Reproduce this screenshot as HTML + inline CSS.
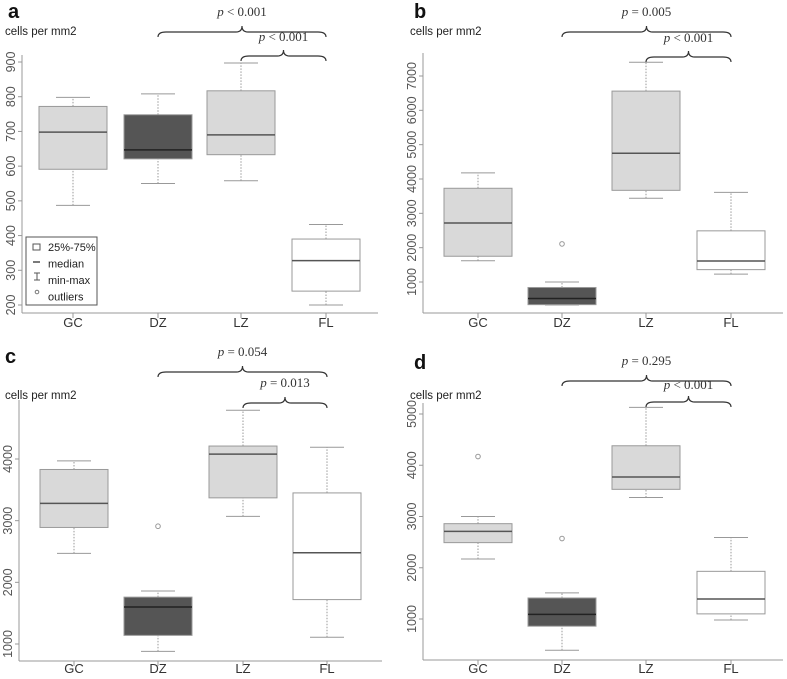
<!DOCTYPE html>
<html><head><meta charset="utf-8"><style>
html,body{margin:0;padding:0;background:#fff;}
svg{display:block;font-family:"Liberation Sans",sans-serif;}
</style></head><body>
<svg id="chart" width="787" height="679" viewBox="0 0 787 679"></svg>
<script>
const categories = ["GC","DZ","LZ","FL"];
const fills = ["#d9d9d9","#555555","#d9d9d9","#ffffff"];
// [min, q1, median, q3, max]
const statsA = [[487,591,698,772,798],[550,621,647,748,808],[558,633,690,817,897],[200,240,328,390,432]];
const statsB = [[1620,1750,2720,3730,4180],[330,340,520,840,1000],[3440,3670,4750,6560,7400],[1230,1360,1610,2490,3610]];
const statsC = [[2470,2890,3280,3830,3970],[880,1140,1600,1760,1860],[3070,3370,4080,4210,4790],[1110,1720,2480,3450,4190]];
const statsD = [[2170,2490,2710,2860,3000],[390,860,1090,1410,1510],[3370,3530,3770,4380,5130],[980,1100,1390,1930,2590]];
const outliersA = [[],[],[],[]];
const outliersB = [[],[2110],[],[]];
const outliersC = [[],[2910],[],[]];
const outliersD = [[4170],[2570],[],[]];
const ticksA = [200,300,400,500,600,700,800,900];
const ticksB = [1000,2000,3000,4000,5000,6000,7000];
const ticksC = [1000,2000,3000,4000];
const ticksD = [1000,2000,3000,4000,5000];
const pBigA=["<","0.001"], pSmallA=["<","0.001"];
const pBigB=["=","0.005"], pSmallB=["<","0.001"];
const pBigC=["=","0.054"], pSmallC=["=","0.013"];
const pBigD=["=","0.295"], pSmallD=["<","0.001"];

const svg=document.getElementById('chart');
const NS="http://www.w3.org/2000/svg";
function mk(tag,attrs,parent){const e=document.createElementNS(NS,tag);for(const k in attrs)e.setAttribute(k,attrs[k]);(parent||svg).appendChild(e);return e;}

const panels=[
 {id:'a',stats:statsA,out:outliersA,ticks:ticksA,pb:pBigA,ps:pSmallA,ax:22,xs:[73,158,241,326],v1:900,y1:62,v2:200,y2:305,bottom:313,axTop:55,xRight:378,letterY:18,labelY:22,xlabY:330,big:32,bigL:16,small:56,smallL:41,legend:true},
 {id:'b',stats:statsB,out:outliersB,ticks:ticksB,pb:pBigB,ps:pSmallB,ax:423,xs:[478,562,646,731],v1:7000,y1:76,v2:1000,y2:282,bottom:313,axTop:53,xRight:783,letterY:18,labelY:22,xlabY:330,big:32,bigL:16,small:57,smallL:42},
 {id:'c',stats:statsC,out:outliersC,ticks:ticksC,pb:pBigC,ps:pSmallC,ax:19,xs:[74,158,243,327],v1:4000,y1:459,v2:1000,y2:644,bottom:661,axTop:400,xRight:382,letterY:363,labelY:386,xlabY:676,big:372,bigL:356,small:403,smallL:387},
 {id:'d',stats:statsD,out:outliersD,ticks:ticksD,pb:pBigD,ps:pSmallD,ax:423,xs:[478,562,646,731],v1:5000,y1:414,v2:1000,y2:619,bottom:660,axTop:403,xRight:783,letterY:369,labelY:386,xlabY:676,big:381,bigL:365,small:402,smallL:389},
];
panels.forEach(P=>{
 const g=mk('g',{});
 
 
 const y=v=>P.y1+(v-P.v1)*(P.y2-P.y1)/(P.v2-P.v1);
 const lx=P.ax-16;
 const L=mk('text',{x:P.id==='a'||P.id==='c'?lx+2:lx+7,y:P.letterY,'font-size':20,'font-weight':'bold',fill:'#111'},g);L.textContent=P.id;
 
 const yl=mk('text',{x:P.id==='a'||P.id==='c'?5:410,y:P.labelY+13,'font-size':11.5,fill:'#222'},g);yl.textContent='cells per mm2';
 
 const yaxis=mk('line',{x1:P.ax,x2:P.ax,y1:P.axTop,y2:P.bottom,stroke:'#999','stroke-width':1},g);
 
 const xaxis=mk('line',{x1:P.ax,x2:P.xRight,y1:P.bottom,y2:P.bottom,stroke:'#999','stroke-width':1},g);
 
 P.ticks.forEach(t=>{
  const ty=y(t);
  mk('line',{x1:P.ax-4,x2:P.ax,y1:ty,y2:ty,stroke:'#999'},g);
  const tx=mk('text',{x:0,y:0,'font-size':12.5,fill:'#555','text-anchor':'middle',transform:`translate(${P.ax-7},${ty}) rotate(-90)`},g);
  tx.textContent=t;
  
 });
 categories.forEach((c,i)=>{
  const cx=P.xs[i];
  mk('line',{x1:cx,x2:cx,y1:P.bottom,y2:P.bottom+5,stroke:'#999'},g);
  const t=mk('text',{x:cx,y:P.xlabY-3,'font-size':13,fill:'#333','text-anchor':'middle'},g);t.textContent=c;
  
  const s=P.stats[i];const hw=34;
  const bx=mk('g',{},g);
  
  
  mk('line',{x1:cx,x2:cx,y1:y(s[0]),y2:y(s[1]),stroke:'#999','stroke-dasharray':'1.5,1.5'},bx);
  mk('line',{x1:cx,x2:cx,y1:y(s[3]),y2:y(s[4]),stroke:'#999','stroke-dasharray':'1.5,1.5'},bx);
  mk('line',{x1:cx-17,x2:cx+17,y1:y(s[0]),y2:y(s[0]),stroke:'#999'},bx);
  mk('line',{x1:cx-17,x2:cx+17,y1:y(s[4]),y2:y(s[4]),stroke:'#999'},bx);
  mk('rect',{x:cx-hw,y:y(s[3]),width:2*hw,height:y(s[1])-y(s[3]),fill:fills[i],stroke:'#999','stroke-width':1},bx);
  mk('line',{x1:cx-hw,x2:cx+hw,y1:y(s[2]),y2:y(s[2]),stroke:i===1?'#222':'#555','stroke-width':1.5},bx);
  P.out[i].forEach(o=>{
   const oc=mk('circle',{cx:cx,cy:y(o),r:2.3,fill:'none',stroke:'#999'},bx);
   
  });
 });
 function brace(x1,x2,by,label,ly,name){
  const xm=(x1+x2)/2;
  const b=mk('g',{},g);
  
  mk('path',{d:`M${x1},${by+5} Q${x1},${by} ${x1+8},${by} L${xm-6},${by} Q${xm},${by} ${xm},${by-6} Q${xm},${by} ${xm+6},${by} L${x2-8},${by} Q${x2},${by} ${x2},${by+5}`,fill:'none',stroke:'#333','stroke-width':1.2},b);
  const t=mk('text',{x:xm,y:ly,'font-size':13,'font-family':'"Liberation Serif",serif',fill:'#333','text-anchor':'middle'},b);
  const ts=mk('tspan',{'font-style':'italic'},t);ts.textContent='p';
  const tr=mk('tspan',{},t);tr.textContent=' '+label[0]+' '+label[1];
 }
 brace(P.xs[1],P.xs[3],P.big,P.pb,P.bigL,'bracket-dz-fl');
 brace(P.xs[2],P.xs[3],P.small,P.ps,P.smallL,'bracket-lz-fl');
 if(P.legend){
  const lg=mk('g',{},g);
  
  mk('rect',{x:26,y:237,width:71,height:68,fill:'#fff',stroke:'#555'},lg);
  mk('rect',{x:33,y:244,width:7,height:6,fill:'#fff',stroke:'#555'},lg);
  mk('line',{x1:33,x2:40,y1:262,y2:262,stroke:'#333','stroke-width':1.3},lg);
  mk('path',{d:'M34,273 H40 M37,273 V280 M34,280 H40',stroke:'#555',fill:'none'},lg);
  mk('circle',{cx:37,cy:292,r:1.8,fill:'none',stroke:'#777'},lg);
  ['25%-75%','median','min-max','outliers'].forEach((s,k)=>{
   const t=mk('text',{x:48,y:251+k*16.5,'font-size':11,fill:'#222'},lg);t.textContent=s;
   
  });
 }
});
</script>
</body></html>
